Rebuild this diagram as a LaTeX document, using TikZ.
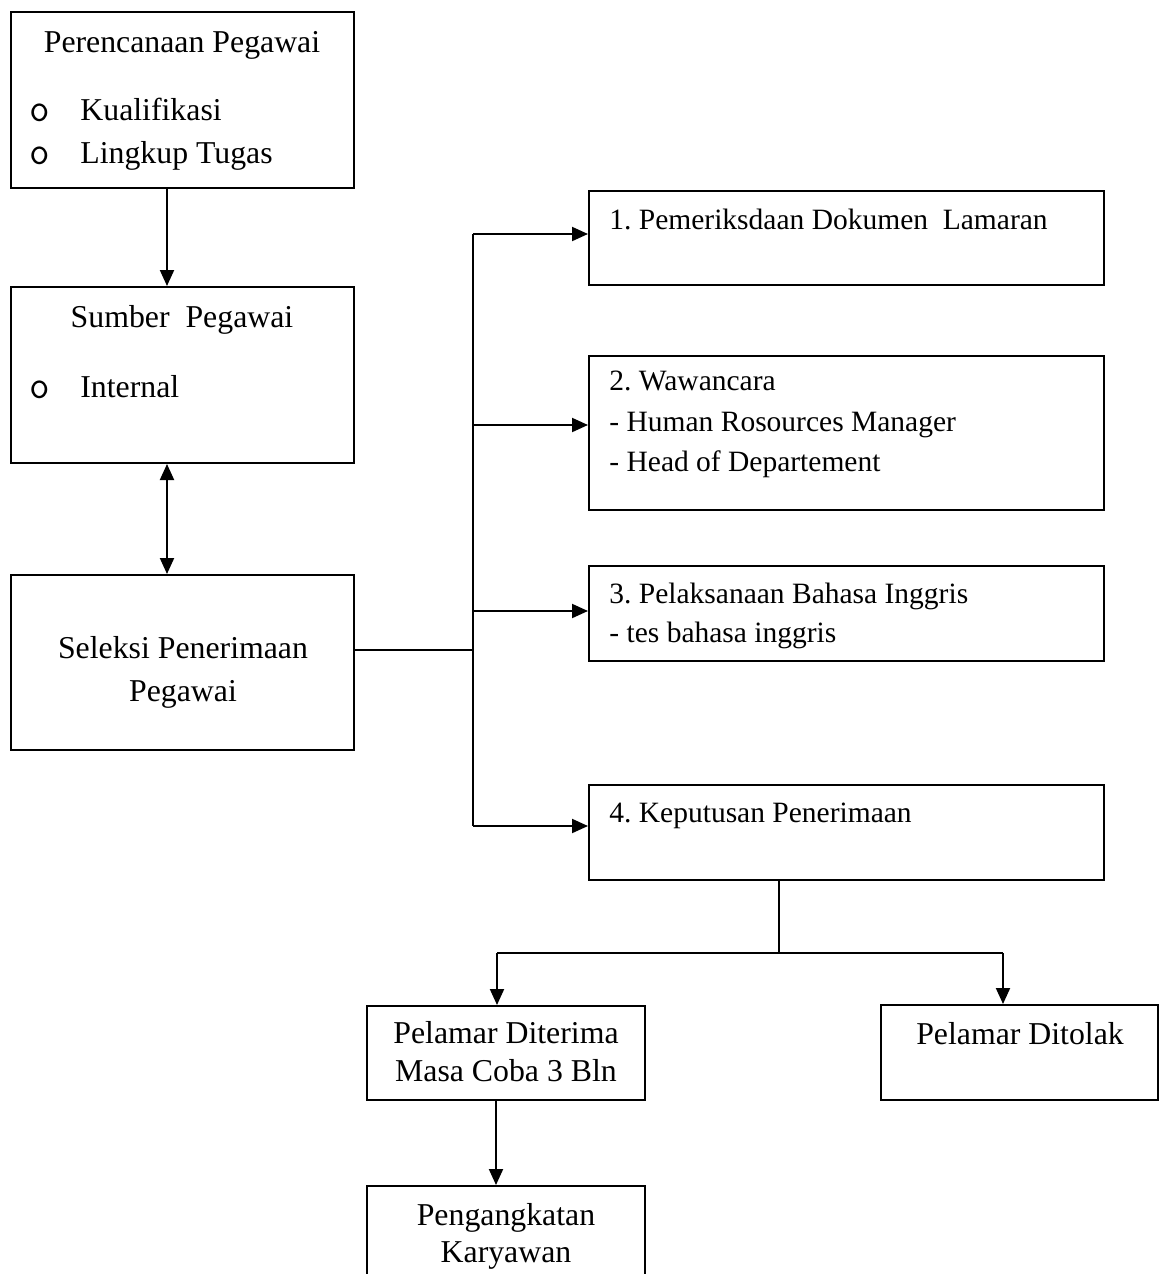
\documentclass[tikz,border=0pt]{standalone}
\usepackage{fontspec}
\setmainfont{Liberation Serif}
\usetikzlibrary{arrows.meta}
\frenchspacing
\tikzset{
  box/.style={draw, line width=0.95pt, rectangle, inner sep=0pt, anchor=north west},
  txt/.style={inner sep=0pt, font=\fontsize{15.9}{18}\selectfont},
  rtxt/.style={inner sep=0pt, font=\fontsize{14.75}{17}\selectfont, anchor=base west},
  bul/.style={inner sep=0pt, font=\fontsize{20}{22}\selectfont\ttfamily, anchor=base},
  conn/.style={line width=1pt},
  arr/.style={line width=1pt, -{Triangle[length=8pt,width=7pt]}},
  darr/.style={line width=1pt, {Triangle[length=8pt,width=7pt]}-{Triangle[length=8pt,width=7pt]}},
}
\newcommand{\bx}[5]{\node[box, minimum width=#4*0.5pt-0.95pt, minimum height=#5*0.5pt-0.95pt] (#1) at (#2,#3) {};}
\begin{document}
\begin{tikzpicture}[x=0.5pt, y=-0.5pt]
\useasboundingbox (0,0) rectangle (1171,1274);
% boxes (pixel coordinates: left, top, width, height)
\bx{A}{10}{11}{345}{178}
\bx{B}{10}{286}{345}{178}
\bx{C}{10}{574}{345}{177}
\bx{K1}{588}{190}{517}{96}
\bx{K2}{588}{355}{517}{156}
\bx{K3}{588}{565}{517}{97}
\bx{K4}{588}{784}{517}{97}
\bx{T}{366}{1005}{280}{96}
\bx{R}{880}{1004}{279}{97}
\bx{P}{366}{1185}{280}{130}
% texts
\node[txt, anchor=base] (tA) at (182,52) {Perencanaan Pegawai};
\node[bul] (bA1) at (40,121) {o};
\node[txt, anchor=base west] (tA1) at (80,120) {Kualifikasi};
\node[bul] (bA2) at (40,164) {o};
\node[txt, anchor=base west] (tA2) at (80,163) {Lingkup Tugas};
\node[txt, anchor=base] (tB) at (182,327) {Sumber\ \ Pegawai};
\node[bul] (bB1) at (40,398) {o};
\node[txt, anchor=base west] (tB1) at (80,397) {Internal};
\node[txt, anchor=base] (tC1) at (183,658) {Seleksi Penerimaan};
\node[txt, anchor=base] (tC2) at (183,701) {Pegawai};
\node[rtxt] (t11) at (609,229) {1. Pemeriksdaan Dokumen\ \ Lamaran};
\node[rtxt] (t21) at (609,390) {2. Wawancara};
\node[rtxt] (t22) at (609,431) {- Human Rosources Manager};
\node[rtxt] (t23) at (609,471) {- Head of Departement};
\node[rtxt] (t31) at (609,603) {3. Pelaksanaan Bahasa Inggris};
\node[rtxt] (t32) at (609,642) {- tes bahasa inggris};
\node[rtxt] (t41) at (609,822) {4. Keputusan Penerimaan};
\node[txt, anchor=base] (tT1) at (506,1043) {Pelamar Diterima};
\node[txt, anchor=base] (tT2) at (506,1081) {Masa Coba 3 Bln};
\node[txt, anchor=base] (tR) at (1020,1044) {Pelamar Ditolak};
\node[txt, anchor=base] (tP1) at (506,1225) {Pengangkatan};
\node[txt, anchor=base] (tP2) at (506,1262) {Karyawan};
% junction coordinates
\coordinate (xa) at (167,0);
\coordinate (xt) at (496,0);
\coordinate (jTop) at (473,234);
\coordinate (jC) at (473,650);
\coordinate (j2) at (473,425);
\coordinate (j3) at (473,611);
\coordinate (jBot) at (473,826);
\coordinate (d1) at (779,881);
\coordinate (d2) at (779,953);
\coordinate (dL) at (497,953);
\coordinate (dR) at (1003,953);
% connectors
\draw[arr] (A.south -| xa) -- (B.north -| xa);
\draw[darr] (B.south -| xa) -- (C.north -| xa);
\draw[conn] (C.east |- jC) -- (jC);
\draw[conn] (jTop) -- (jBot);
\draw[arr] (jTop) -- (K1.west |- jTop);
\draw[arr] (j2) -- (K2.west |- j2);
\draw[arr] (j3) -- (K3.west |- j3);
\draw[arr] (jBot) -- (K4.west |- jBot);
\draw[conn] (d1) -- (d2);
\draw[conn] (dL) -- (dR);
\draw[arr] (dL) -- (T.north -| dL);
\draw[arr] (dR) -- (R.north -| dR);
\draw[arr] (T.south -| xt) -- (P.north -| xt);
\end{tikzpicture}
\end{document}
